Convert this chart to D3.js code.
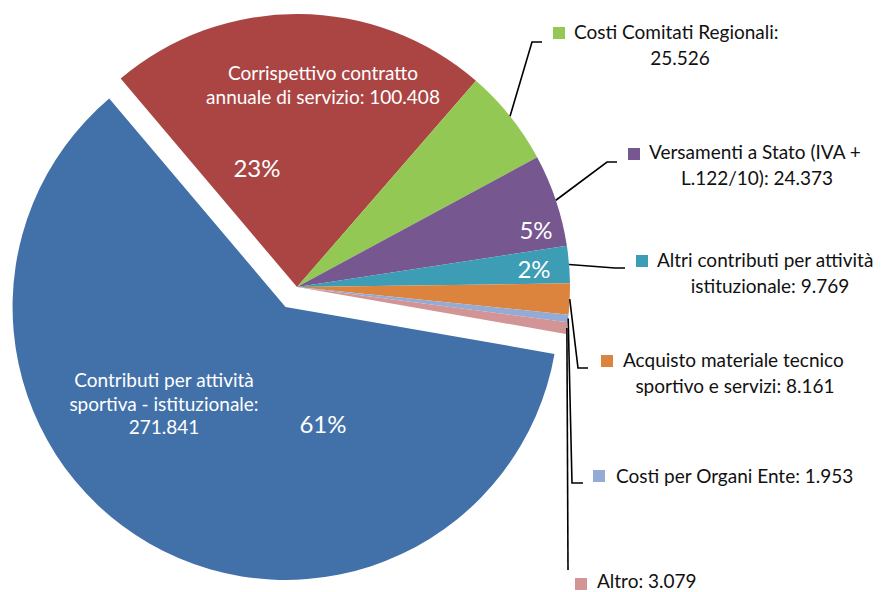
<!DOCTYPE html>
<html>
<head>
<meta charset="utf-8">
<script src="https://cdn.jsdelivr.net/npm/d3@7"></script>
<style>
  body { margin: 0; background: #fff; }
  text { font-family: Lato, Carlito, "Open Sans", sans-serif; }
</style>
</head>
<body>
<script>
'use strict';

// data (values in thousands, shown with Italian grouping)
const categories = [
  "Contributi per attività sportiva - istituzionale",
  "Corrispettivo contratto annuale di servizio",
  "Costi Comitati Regionali",
  "Versamenti a Stato (IVA + L.122/10)",
  "Altri contributi per attività istituzionale",
  "Acquisto materiale tecnico sportivo e servizi",
  "Costi per Organi Ente",
  "Altro"
];
const values = [271841, 100408, 25526, 24373, 9769, 8161, 1953, 3079];
const showPercent = [true, true, false, true, true, false, false, false];
const colors = ["#4271a9", "#ab4544", "#92c853", "#76578f", "#3c9db4", "#dc843e", "#94abd6", "#d29494"];

// layout
const m = { width: 885, height: 592, cx: 297, cy: 287, r: 273 };
const startDeg = 99.9;
const explodeIndex = 0;
const explodeDist = 23;

// label positions: inside labels (centered lines) or outside labels with key square + leader
const labelLayout = [
  { inside: true, breaks: [3, 6], x: 164, y: 387, pct: [323, 433] },
  { inside: true, breaks: [2], x: 323, y: 80, pct: [257, 177] },
  { inside: false, breaks: [3], key: [553, 27], x: 574, y: 39, cx2: 680, elbow: [532, 42], end: [542, 42] },
  { inside: false, breaks: [5], key: [628, 148], x: 649, y: 159, cx2: 757, elbow: [607, 162], end: [617, 162], pct: [536, 239] },
  { inside: false, breaks: [4], key: [636, 255], x: 657, y: 267, cx2: 770, elbow: [615, 268], end: [625, 268], pct: [534, 278] },
  { inside: false, breaks: [3], key: [601, 355], x: 623, y: 367, cx2: 735, elbow: [578, 368], end: [588, 368] },
  { inside: false, breaks: [], key: [593, 470], x: 616, y: 483, elbow: [572, 483], end: [583, 483] },
  { inside: false, breaks: [], key: [575, 578], x: 597, y: 588, elbow: [568, 570], end: [568, 570] }
];

const lineHeight = 23.5;
const nameSize = 19;
const pctSize = 24;

const it = d3.formatLocale({ decimal: ",", thousands: ".", grouping: [3], currency: ["€", ""] });
const fmtNum = it.format(",d");
const fmtPct = it.format(".0%");

const svg = d3.select('body')
  .append('svg')
  .attr('width', m.width)
  .attr('height', m.height);

const rows = categories.map((c, i) => ({ name: c, value: values[i], i: i }));
const total = d3.sum(values);

const a0 = startDeg * Math.PI / 180;
const pie = d3.pie()
  .sort(null)
  .value(d => d.value)
  .startAngle(a0)
  .endAngle(a0 + 2 * Math.PI);

const arcs = pie(rows);

const arc = d3.arc().innerRadius(0).outerRadius(m.r);
const edge = d3.arc().innerRadius(m.r).outerRadius(m.r);

// offset for the exploded slice
function shift(d) {
  if (d.index !== explodeIndex) return [0, 0];
  const mid = (d.startAngle + d.endAngle) / 2;
  return [explodeDist * Math.sin(mid), -explodeDist * Math.cos(mid)];
}

const g = svg.append('g')
  .attr('transform', 'translate(' + m.cx + ',' + m.cy + ')');

g.selectAll('.slice')
  .data(arcs)
  .enter()
  .append('path')
  .attr('class', 'slice')
  .attr('d', arc)
  .attr('transform', d => 'translate(' + shift(d) + ')')
  .attr('fill', d => colors[d.index]);

// split "name: value" into lines at given word counts
function labelLines(d, breaks) {
  const words = (d.data.name + ': ' + fmtNum(d.data.value)).split(' ');
  const cuts = [0].concat(breaks, [words.length]);
  const out = [];
  for (let k = 0; k < cuts.length - 1; k++) out.push(words.slice(cuts[k], cuts[k + 1]).join(' '));
  return out;
}

// leader lines
arcs.forEach((d) => {
  const L = labelLayout[d.index];
  if (L.inside) return;
  const p = edge.centroid(d);
  const pts = [[p[0] + m.cx, p[1] + m.cy], L.elbow, L.end];
  svg.append('path')
    .attr('d', d3.line()(pts))
    .attr('fill', 'none')
    .attr('stroke', '#000')
    .attr('stroke-width', 1.6);
});

// category labels
arcs.forEach((d) => {
  const L = labelLayout[d.index];
  const lines = labelLines(d, L.breaks);
  if (L.inside) {
    lines.forEach((t, k) => {
      svg.append('text')
        .attr('x', L.x)
        .attr('y', L.y + k * lineHeight)
        .attr('text-anchor', 'middle')
        .attr('fill', '#fff')
        .style('font-size', nameSize + 'px')
        .text(t);
    });
  } else {
    svg.append('rect')
      .attr('x', L.key[0])
      .attr('y', L.key[1])
      .attr('width', 12)
      .attr('height', 12)
      .attr('fill', colors[d.index]);
    lines.forEach((t, k) => {
      svg.append('text')
        .attr('x', k === 0 ? L.x : L.cx2)
        .attr('y', L.y + k * (lineHeight + 2.5))
        .attr('text-anchor', k === 0 ? 'start' : 'middle')
        .attr('fill', '#111')
        .style('font-size', nameSize + 'px')
        .text(t);
    });
  }
});

// percentage labels
arcs.forEach((d) => {
  const L = labelLayout[d.index];
  if (!showPercent[d.index]) return;
  svg.append('text')
    .attr('x', L.pct[0])
    .attr('y', L.pct[1])
    .attr('text-anchor', 'middle')
    .attr('fill', '#fff')
    .style('font-size', pctSize + 'px')
    .text(fmtPct(d.data.value / total));
});
</script>
</body>
</html>
